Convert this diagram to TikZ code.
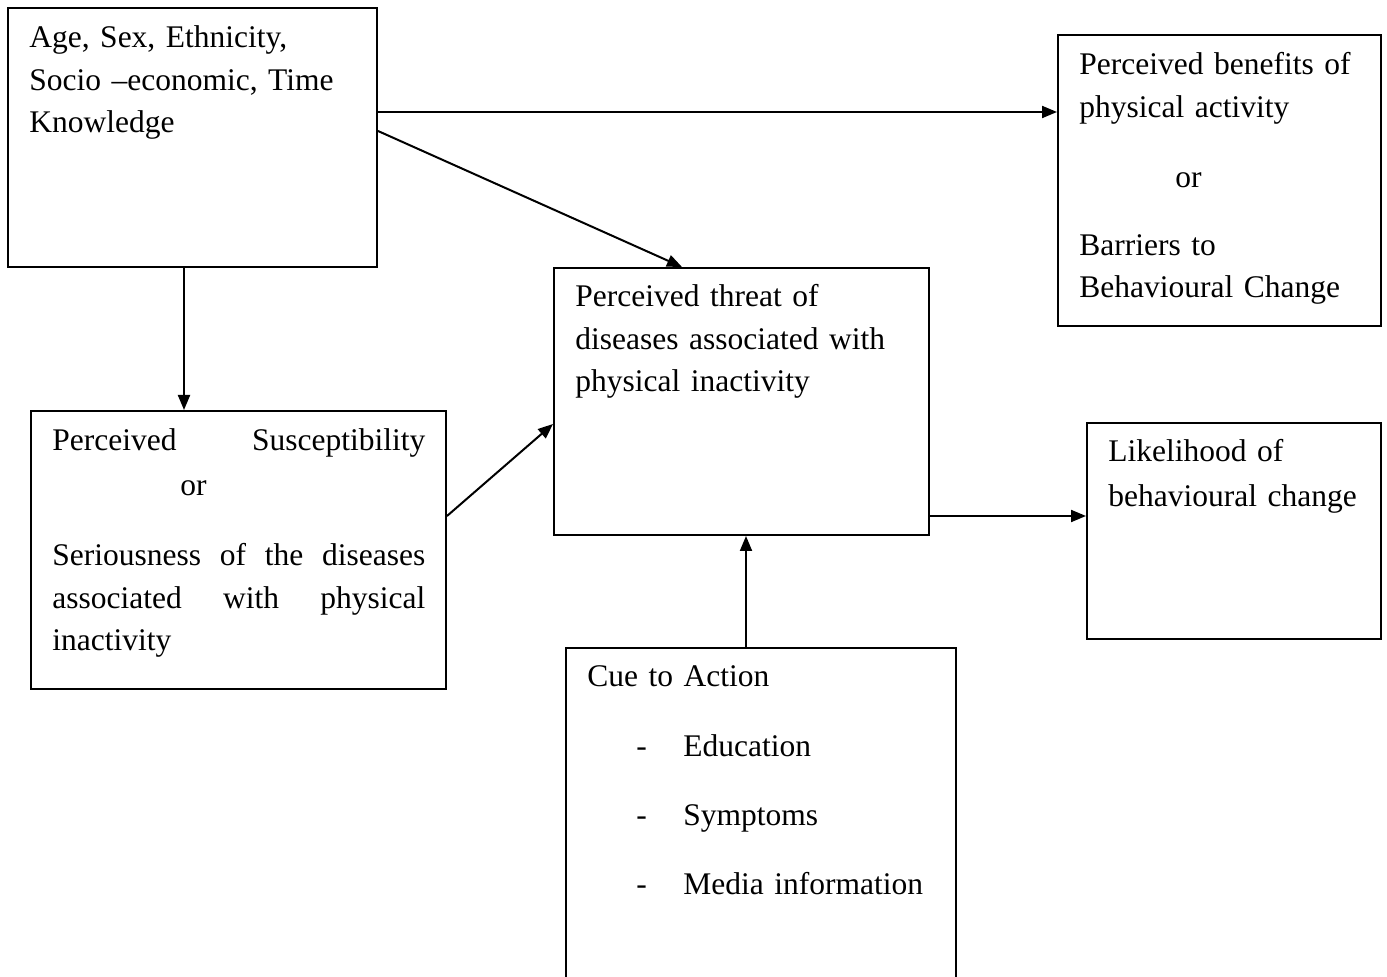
\documentclass[tikz,border=0pt]{standalone}
\usepackage{fontspec}
\setmainfont{Liberation Serif}
\usetikzlibrary{arrows.meta}
\newcommand{\spreadline}[1]{\makebox[\linewidth][s]{#1}}

\tikzset{
  box/.style={draw,line width=1pt,fill=white,inner sep=0pt},
  txt/.style={anchor=base west,inner sep=0pt,align=left,font=\fontsize{15.75}{21.25}\selectfont},
  arr/.style={-{Triangle[length=7.5pt,width=6pt]},line width=1pt},
}

\begin{document}
\begin{tikzpicture}[x=0.5pt,y=-0.5pt]
  \clip (0,0) rectangle (1387,977);
  \fill[white] (0,0) rectangle (1387,977);
  % ---- boxes ----
  \node[box,minimum width=184.5pt,minimum height=129.5pt] (demog)   at (192.5,137.5) {};
  \node[box,minimum width=161.5pt,minimum height=145.5pt] (benefit) at (1219.5,180.5) {};
  \node[box,minimum width=207.5pt,minimum height=139pt]   (suscept) at (238.5,550) {};
  \node[box,minimum width=187.5pt,minimum height=133.5pt] (threat)  at (741.5,401.5) {};
  \node[box,minimum width=147pt,minimum height=108pt]     (likely)  at (1234,531) {};
  \node[box,minimum width=195pt,minimum height=176pt]     (cue)     at (761,824) {};
  % ---- box texts ----
  \node[txt,text width=170pt] (demog-txt) at (29,48)
    {Age, Sex, Ethnicity,\\ Socio –economic, Time\\ Knowledge};
  \node[txt,text width=150pt] (benefit-txt) at (1079,75)
    {Perceived benefits of\\ physical activity\\[13.75pt]
     \hspace*{48pt}or\\[12.75pt] Barriers to\\ Behavioural Change};
  \node[txt,text width=186.5pt] (suscept-txt) at (52,451)
    {\spreadline{Perceived\hfill Susceptibility}\\[1pt]
     \hspace*{64pt}or\\[14pt]
     \spreadline{Seriousness\hfill of\hfill the\hfill diseases}\\
     \spreadline{associated\hfill with\hfill physical}\\
     inactivity};
  \node[txt,text width=175pt] (threat-txt) at (575,307)
    {Perceived threat of\\ diseases associated with\\ physical inactivity};
  \node[txt,text width=135pt] (likely-txt) at (1108,462)
    {Likelihood of\\[1pt] behavioural change};
  \node[txt,text width=185pt] (cue-txt) at (587,687)
    {Cue to Action\\[13.5pt]
     \hspace*{24.5pt}\makebox[23.5pt][l]{-}Education\\[13.25pt]
     \hspace*{24.5pt}\makebox[23.5pt][l]{-}Symptoms\\[13.25pt]
     \hspace*{24.5pt}\makebox[23.5pt][l]{-}Media information};
  % ---- connectors ----
  \draw[arr] ([yshift=12.75pt]demog.east) coordinate (d1) -- (d1 -| benefit.west);
  \draw[arr] ([yshift=3.25pt]demog.east) -- ([xshift=64.5pt]threat.north west);
  \draw[arr] ([xshift=-4.25pt]demog.south) coordinate (d3) -- (d3 |- suscept.north);
  \draw[arr] ([yshift=17pt]suscept.east) -- ([yshift=-11.25pt]threat.west);
  \draw[arr] ([yshift=-57.25pt]threat.east) coordinate (t5) -- (t5 -| likely.west);
  \coordinate (t6) at ([xshift=2.25pt]threat.south);
  \draw[arr] (t6 |- cue.north) -- (t6);
\end{tikzpicture}
\end{document}
